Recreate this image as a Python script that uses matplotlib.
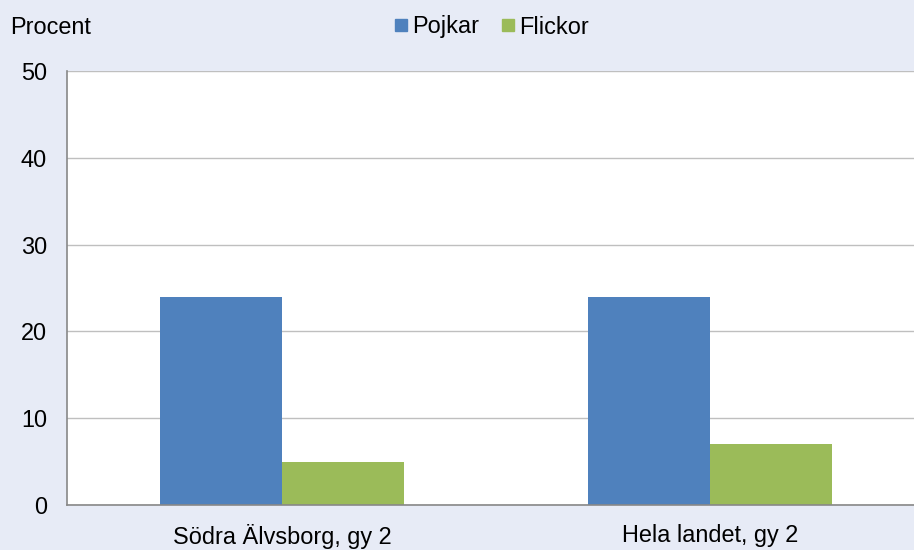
import matplotlib
matplotlib.use("Agg")
import matplotlib.pyplot as plt
from matplotlib.lines import Line2D
import numpy as np

categories = ["Södra Älvsborg, gy 2", "Hela landet, gy 2"]
pojkar = [24, 24]
flickor = [5, 7]
yticks = [0, 10, 20, 30, 40, 50]
series_names = ["Pojkar", "Flickor"]
ylabel = "Procent"

plt.rcParams['font.family'] = ['Liberation Sans', 'DejaVu Sans']
bg = "#E7EBF6"
blue = "#4F81BD"
green = "#9BBB59"
fs = 16.9

fig = plt.figure(figsize=(9.14, 5.5), dpi=100, facecolor=bg)
ax = fig.add_axes([67/914, 45/550, (914-67)/914, 434/550])
ax.set_facecolor("white")

x = np.arange(len(categories))
w = 122/428
ax.bar(x - w/2, pojkar, width=w, color=blue, zorder=3)
ax.bar(x + w/2, flickor, width=w, color=green, zorder=3)

ax.set_xlim((67-282)/428, (914-282)/428)
ax.set_ylim(0, 50)
ax.set_yticks(yticks)
ax.set_yticklabels([str(v) for v in yticks], fontsize=fs)
ax.set_xticks(x)
ax.set_xticklabels(categories, fontsize=fs)
ax.tick_params(axis='y', length=0, pad=14.5)
ax.tick_params(axis='x', length=0, pad=13.5)
ax.yaxis.grid(True, color="#BFBFBF", linewidth=1.0, zorder=0)
ax.set_axisbelow(True)
for s in ["top", "right"]:
    ax.spines[s].set_visible(False)
for s in ["left", "bottom"]:
    ax.spines[s].set_color("#888888")
    ax.spines[s].set_linewidth(1.2)
    ax.spines[s].set_zorder(4)

fig.text(10/914, 1 - 27/550, ylabel, fontsize=fs, ha="left", va="center")

handles = [Line2D([], [], marker="s", linestyle="none", markersize=8.8, color=c)
           for c in (blue, green)]
fig.legend(handles, series_names, loc="center", bbox_to_anchor=(492/914, 1 - 27/550),
           ncol=2, frameon=False, fontsize=fs, handlelength=0.5, handletextpad=0.2,
           columnspacing=1.0, borderaxespad=0)

fig.savefig("out.png", dpi=100, facecolor=bg)
